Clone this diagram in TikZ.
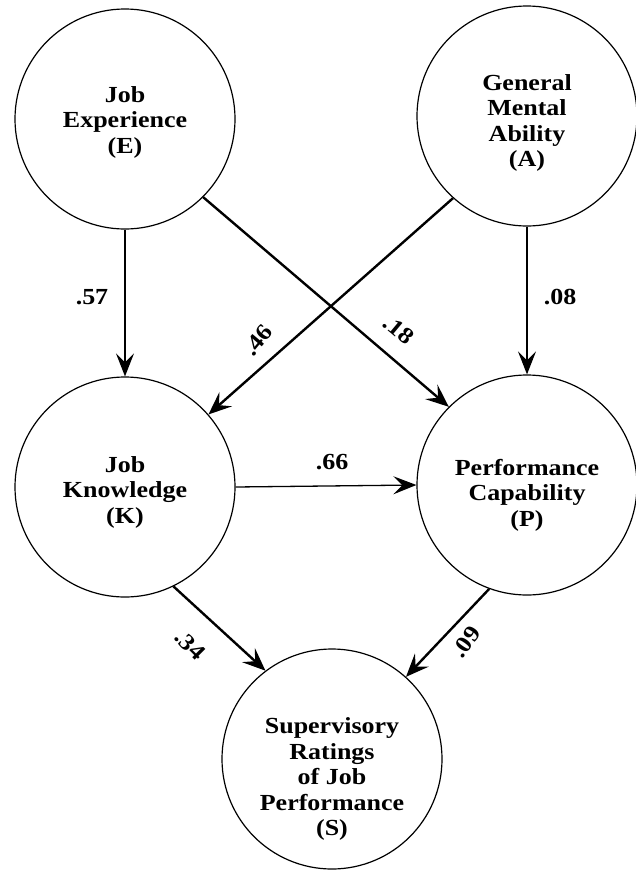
\documentclass[tikz,border=0pt]{standalone}
\usepackage{fontspec}
\setmainfont{Liberation Serif}[FakeStretch=1.13]
\usetikzlibrary{arrows.meta}
\begin{document}
\begin{tikzpicture}[x=1pt,y=1pt,
  circ/.style={circle,draw,line width=1.2pt,minimum size=220pt,inner sep=0pt},
  lbl/.style={align=center,font=\fontsize{23}{25.5}\selectfont\bfseries},
  num/.style={font=\fontsize{23}{25.5}\selectfont\bfseries,inner sep=0pt},
  thin/.style={line width=1.3pt,-{Stealth[length=23pt,width=18pt,inset=9pt]}},
  thick/.style={line width=2.4pt,-{Stealth[length=23pt,width=19pt,inset=9pt]}}]
\useasboundingbox (0,0) rectangle (636,-870);
\node[circ] (E) at (125,-119) {};
\node[circ] (A) at (527,-116) {};
\node[circ] (K) at (125,-487) {};
\node[circ] (P) at (527,-485) {};
\node[circ] (S) at (332,-759) {};
\node[lbl] (Et) at ([yshift=-3]E.center) {Job\\Experience\\(E)};
\node[lbl] (At) at ([yshift=-7]A.center) {General\\Mental\\Ability\\(A)};
\node[lbl] (Kt) at ([yshift=-5]K.center) {Job\\Knowledge\\(K)};
\node[lbl] (Pt) at ([yshift=-10]P.center) {Performance\\Capability\\(P)};
\node[lbl] (St) at ([yshift=-20]S.center) {Supervisory\\Ratings\\of Job\\Performance\\(S)};
\draw[thin] (E.south) -- (K.north);
\draw[thin] (A.south) -- (P.north);
\draw[thin] (K.east) -- (P.west);
\draw[thick] (E.-45) -- (P.135);
\draw[thick] (A.228) -- (K.41);
\draw[thick] (K.-64) -- (S.127);
\draw[thick] (P.250) -- (S.48);
\node[num] (n57) at (92,-297) {.57};
\node[num] (n08) at (560,-297) {.08};
\node[num,rotate=50] (n46) at (258,-340) {.46};
\node[num,rotate=-40] (n18) at (399,-330) {.18};
\node[num] (n66) at (332,-462) {.66};
\node[num,rotate=-45] (n34) at (190,-645) {.34};
\node[num,rotate=55] (n09) at (466,-642) {.09};
\end{tikzpicture}
\end{document}
